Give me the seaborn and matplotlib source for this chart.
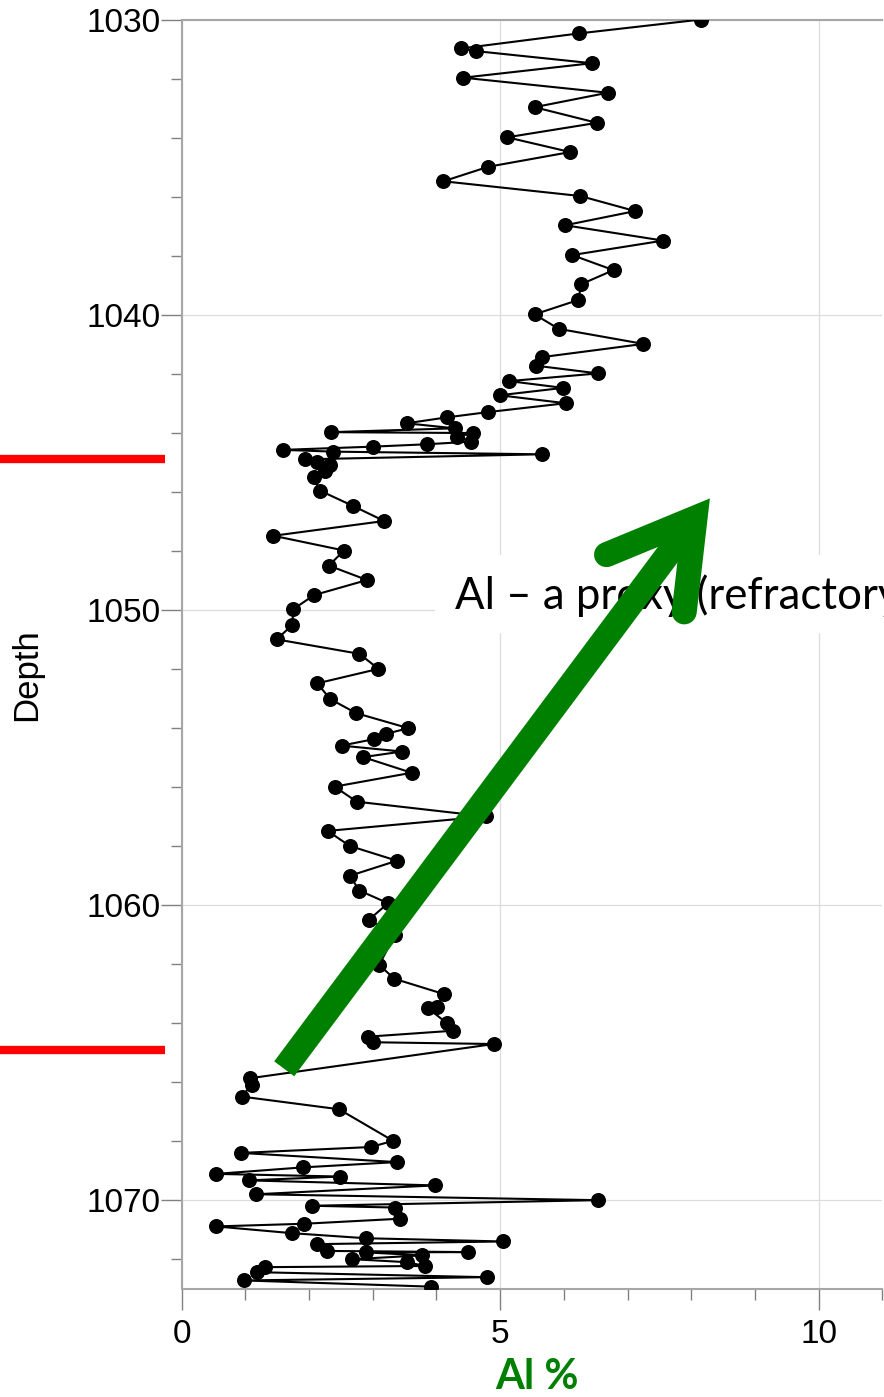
import numpy as np
import pandas as pd
import matplotlib
matplotlib.use("Agg")
import matplotlib.pyplot as plt
from matplotlib.patches import Rectangle
from matplotlib.ticker import MultipleLocator
import seaborn as sns

# Al content (%) against core depth
depth = [
    1030.00, 1030.47, 1030.98, 1031.07, 1031.48, 1031.97, 1032.48, 1032.97, 1033.50, 1033.99,
    1034.49, 1034.99, 1035.48, 1035.98, 1036.49, 1036.97, 1037.49, 1037.98, 1038.49, 1038.97,
    1039.50, 1039.99, 1040.48, 1040.99, 1041.44, 1041.73, 1041.99, 1042.25, 1042.48, 1042.73,
    1043.00, 1043.30, 1043.48, 1043.68, 1043.85, 1043.98, 1044.01, 1044.13, 1044.30, 1044.39,
    1044.47, 1044.58, 1044.64, 1044.73, 1044.90, 1044.98, 1045.09, 1045.28, 1045.51, 1045.96,
    1046.48, 1046.99, 1047.49, 1047.99, 1048.50, 1048.99, 1049.50, 1049.98, 1050.51, 1051.00,
    1051.49, 1052.00, 1052.49, 1053.02, 1053.50, 1054.01, 1054.20, 1054.38, 1054.60, 1054.80,
    1054.99, 1055.52, 1055.99, 1056.50, 1057.00, 1057.49, 1058.00, 1058.50, 1059.01, 1059.51,
    1059.94, 1060.50, 1061.00, 1062.03, 1062.50, 1063.02, 1063.44, 1063.48, 1064.00, 1064.26,
    1064.46, 1064.65, 1064.71, 1065.87, 1066.09, 1066.49, 1066.92, 1067.99, 1068.20, 1068.40,
    1068.71, 1068.89, 1069.11, 1069.20, 1069.33, 1069.50, 1069.80, 1070.00, 1070.19, 1070.25,
    1070.63, 1070.80, 1070.89, 1071.12, 1071.29, 1071.40, 1071.49, 1071.72, 1071.76, 1071.77,
    1071.87, 1072.00, 1072.10, 1072.23, 1072.27, 1072.44, 1072.61, 1072.72, 1072.93,
]
al = [
    8.15, 6.24, 4.39, 4.62, 6.44, 4.42, 6.69, 5.54, 6.52, 5.11,
    6.10, 4.81, 4.11, 6.26, 7.12, 6.02, 7.56, 6.13, 6.78, 6.27,
    6.23, 5.54, 5.92, 7.25, 5.65, 5.57, 6.54, 5.14, 5.99, 4.99,
    6.03, 4.81, 4.16, 3.53, 4.29, 2.34, 4.58, 4.32, 4.55, 3.85,
    3.01, 1.59, 2.38, 5.65, 1.94, 2.12, 2.33, 2.25, 2.07, 2.17,
    2.69, 3.18, 1.44, 2.55, 2.31, 2.91, 2.08, 1.75, 1.74, 1.49,
    2.79, 3.09, 2.13, 2.33, 2.74, 3.56, 3.21, 3.02, 2.51, 3.46,
    2.85, 3.61, 2.40, 2.75, 4.78, 2.29, 2.64, 3.38, 2.64, 2.79,
    3.24, 2.94, 3.35, 3.10, 3.34, 4.12, 4.01, 3.86, 4.16, 4.26,
    2.93, 3.01, 4.90, 1.07, 1.10, 0.94, 2.47, 3.32, 2.97, 0.93,
    3.38, 1.90, 0.54, 2.49, 1.05, 3.98, 1.17, 6.53, 2.05, 3.35,
    3.42, 1.92, 0.54, 1.74, 2.89, 5.05, 2.12, 2.28, 4.50, 2.90,
    3.78, 2.68, 3.53, 3.82, 1.31, 1.18, 4.79, 0.98, 3.91,
]

# horizon markers drawn at the left margin
horizon_depths = [1044.9, 1064.9]

x_ticks = [0, 5, 10]
y_ticks = [1030, 1040, 1050, 1060, 1070]

# trend arrow (Al, depth): shaft start, head vertex and the two barb ends
arrow_start = (1.61, 1065.55)
arrow_vertex = (8.06, 1046.89)
arrow_barb_left = (6.67, 1048.13)
arrow_barb_right = (7.89, 1050.07)

note_text = "Al \u2013 a proxy (refractory"

df = pd.DataFrame({"al": al, "depth": depth})

sns.set_style("white")
plt.rcParams["font.family"] = ["Liberation Sans", "DejaVu Sans"]

fig = plt.figure(figsize=(8.84, 13.97), dpi=100)
ax = fig.add_axes([0.2055, 0.07752, 0.7926, 0.9085])

sns.lineplot(data=df, x="al", y="depth", sort=False, estimator=None,
             color="black", linewidth=1.5, marker="o", markersize=10.8,
             markeredgewidth=0, markerfacecolor="black", ax=ax, zorder=3)

ax.set_xlim(0, 11)
ax.set_ylim(1073, 1030)

ax.set_xticks(x_ticks)
ax.set_yticks(y_ticks)
ax.xaxis.set_minor_locator(MultipleLocator(1))
ax.yaxis.set_minor_locator(MultipleLocator(2))

ax.set_axisbelow(True)
ax.grid(True, which="major", color="#dcdcdc", linewidth=0.9)

for side in ["top", "left", "bottom"]:
    ax.spines[side].set_visible(True)
    ax.spines[side].set_color("#a6a6a6")
    ax.spines[side].set_linewidth(1.5)
ax.spines["right"].set_visible(False)

ax.tick_params(axis="both", which="both", direction="out", colors="#808080",
               labelcolor="black", labelsize=24)
ax.tick_params(axis="y", which="major", length=15, width=1.0, pad=0.5, left=True)
ax.tick_params(axis="y", which="minor", length=8, width=1.0, left=True)
ax.tick_params(axis="x", which="major", length=15, width=1.0, pad=7, bottom=True)
ax.tick_params(axis="x", which="minor", length=8, width=1.0, bottom=True)

ax.set_ylabel("Depth", fontsize=25, color="black")
ax.yaxis.label.set_va("center")
ax.yaxis.set_label_coords(-0.2208, 0.484)

ax.set_xlabel("Al %", fontsize=30, fontweight="bold", color="#008000",
              family=["Lato", "DejaVu Sans"])
ax.xaxis.label.set_va("top")
ax.xaxis.set_label_coords(0.507, -0.0545)

# red horizon ticks in the left margin
for d in horizon_depths:
    ax.plot([-0.2593, -0.0238], [d, d], transform=ax.get_yaxis_transform(),
            color="#ff0000", linewidth=6, solid_capstyle="butt", clip_on=False)

# white note box with its text
ax.add_patch(Rectangle((0.3615, 0.5166), 0.70, 0.0615, transform=ax.transAxes,
                       facecolor="white", edgecolor="none", zorder=4, clip_on=False))
ax.text(0.390, 0.5355, note_text, transform=ax.transAxes, fontsize=31.5,
        family=["Lato", "DejaVu Sans"], color="black", ha="left", va="baseline",
        zorder=5, clip_on=False)

# green trend arrow
green = "#008000"
ax.plot([arrow_start[0], arrow_vertex[0]], [arrow_start[1], arrow_vertex[1]],
        color=green, linewidth=18, solid_capstyle="butt", zorder=6, clip_on=False)
ax.plot([arrow_barb_left[0], arrow_vertex[0], arrow_barb_right[0]],
        [arrow_barb_left[1], arrow_vertex[1], arrow_barb_right[1]],
        color=green, linewidth=18, solid_capstyle="round", solid_joinstyle="miter",
        zorder=6, clip_on=False)

fig.savefig("out.png", dpi=100)
